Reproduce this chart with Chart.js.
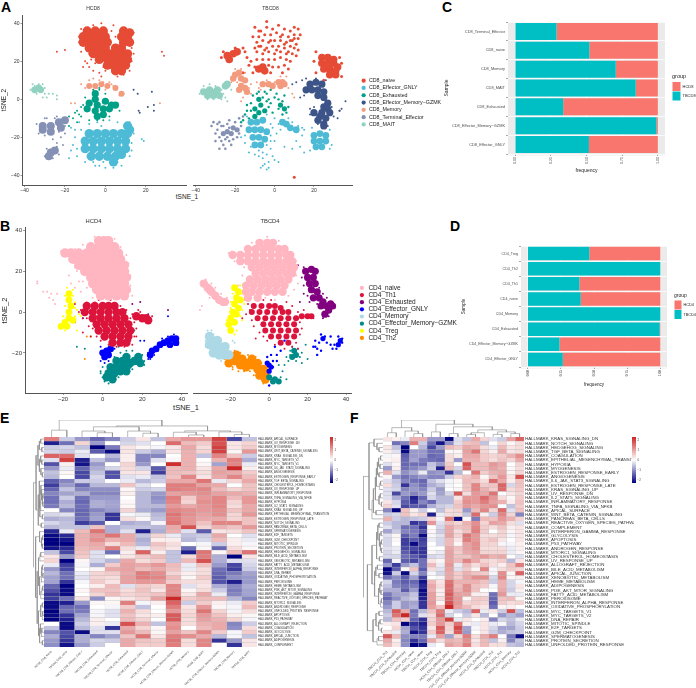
<!DOCTYPE html>
<html>
<head>
<meta charset="utf-8">
<title>CD8 and CD4 T cell panels</title>
<script src="https://cdn.jsdelivr.net/npm/chart.js@4"></script>
<style>
  html, body { margin: 0; padding: 0; background: #fff; }
  #page { position: relative; width: 696px; height: 688px; overflow: hidden; }
  #page canvas { position: absolute; }
  .tag { position: absolute; font: bold 14px "Liberation Sans", sans-serif; color: #000; line-height: 14px; }
  .axisname { position: absolute; font-family: "Liberation Sans", sans-serif; color: #222; transform: translateX(-50%); white-space: nowrap; }
</style>
</head>
<body>
<div id="page">
  <div class="tag" style="left:1px;top:0px">A</div>
  <div class="tag" style="left:0px;top:219px">B</div>
  <div class="tag" style="left:442px;top:0px">C</div>
  <div class="tag" style="left:450px;top:219px">D</div>
  <div class="tag" style="left:0px;top:411px">E</div>
  <div class="tag" style="left:350px;top:411px">F</div>
  <div class="axisname" style="left:187px;top:193px;font-size:6.5px">tSNE_1</div>
  <div class="axisname" style="left:186px;top:403px;font-size:7.5px">tSNE_1</div>
</div>
<script>
// panel A, flat x,y lists
const cd8Groups = ['CD8_naive','CD8_Effector_GNLY','CD8_Exhausted','CD8_Effector_Memory\u2212GZMK','CD8_Memory','CD8_Terminal_Effector','CD8_MAIT']
const cd8Colors = ['#E64B35','#4DBBD5','#00A087','#3C5488','#F39B7F','#8491B4','#91D1C2']

const hcd8Naive = [-9,36,-5,36,-1,36,9,36,12,35,-11,33,-8,33,-4,33,0,33,8,33,11,32,-11,30,-7,30,-3,30,1,30,9,30,12,30,-8,27,-4,27,0,27,5,27,8,27,-6,24,-2,24,2,24,5,24,9,24,11,24,-3,21,1,21,4,21,8,21,11,21,1,18,4,18,7,18,10,18,5,15,8,15]
const hcd8NaiveDots = [-24,25,-20,26,-8,17,-6,15,-3,14,0,15,-10,20,-12,25,-2,12,28,25,29,23,13,20,12,15,-11,17,-7,21,-8,24,-13,30,14,35,4,39,-2,40,-6,39,-12,37,-13,33,13,27,3,36,5,33,14,24,9,13,6,12,-5,19,-9,19,-1,17]
const hcd8Gnly = [11,-14,12,-16,-8,-18,-4,-18,0,-18,4,-18,8,-18,11,-18,-10,-22,-6,-22,-2,-22,2,-22,6,-22,10,-22,-10,-26,-6,-26,-2,-26,2,-26,6,-26,10,-26,-7,-30,-3,-30,1,-30,5,-30,8,-29,4,-33]
const hcd8GnlyDots = [-17,-15,-15,-20,-14,-26,-13,-12,-8,-13,-4,-12,2,-11,6,-12,13,-23,18,-21,19,-22,-17,-27,-14,-30,-10,-33,-6,-33,0,-36,8,-35,-3,-35,6,-33,12,-30,-15,-16,-16,-24,14,-18,12,-12,-2,-14,13,-27,-12,-16,-1,-33,4,-36,-5,-35,-18,-31]
const hcd8Exh = [-5,3,-5,0,-8,-2,-4,-3,0,-1,3,-3,5,-3,-9,-5,-5,-6,-1,-5,-4,-9,2,-5,-1,-8]
const hcd8ExhDots = [-14,-6,-16,-10,-20,-10,-18,-9,-12,-4,-13,-8,-3,6,-8,-11,-4,-11,2,-9,7,-6,0,3,-18,-14,-14,-12,-10,1,-11,-3,-3,5,6,-2,-12,-9,-6,5,-1,-11,-15,-7]
const hcd8Mem = [14,5,16,3,23,4,17,-7,16.5,-6,21,-4,24,-3,24,-6]
const hcd8Mem2 = [-8,7,-5,7,-2,8,1,7,5,6,8,3]
const hcd8Mem2Dots = [-6,11,-3,10,-10,6,-17,-2,-15,-2,-6,5,3,8,7,2,9,3,27,-2,0,5,-8,10,-1,9,2,9,4,7,-12,8,-4,6]
const hcd8Term = [-31,-14,-31,-16,-27,-14,-23,-12,-27,-17,-22,-15,-20,-11,-27,-28,-25,-27,-28,-30]
const hcd8TermDots = [-29,-10,-24,-9,-20,-18,-26,-21,-24,-23,-22,-20,-33,-18,-30,-19,-30,-30,-20,-14,-25,-10,-19,-10,-23,-17,-24,-25,-29,-26,-23,-29,-26,-31,-34,-13,-30,-10,-21,-24]
const hcd8Mait = [-35,5,-33,6,-32,5]
const hcd8MaitDots = [-30,3,-28,3,-26,3,-31,1,-36,8,-33,8,-24,2,-24,0,-37,5,-34,3,-30,6,-31,8,-35,7,-29,1]

const tbcd8Naive = [-24,23,-21,24,-19,25,-23,21,24,22,27,22,30,21,24,19,27,19,30,19,32,17,25,16,28,16,31,15,28,13,31,13,-8,16,-6,17,-5,15]
const tbcd8NaiveDots = [-10,38,-7,36,-4,38,-1,37,2,39,5,37,8,36,10,38,12,37,13,34,-11,33,-8,33,-5,34,-2,34,1,35,4,34,7,33,10,34,12,32,-9,30,-6,31,-3,30,0,31,3,31,6,30,9,31,11,29,-10,27,-7,28,-4,27,-1,28,2,28,5,27,8,28,10,27,12,26,-9,25,-6,24,-3,25,0,24,3,25,6,24,9,24,11,23,-14,22,-12,20,-9,21,-6,21,-3,21,0,21,3,22,6,21,8,20,-13,18,-10,17,-3,18,-1,17,2,17,5,18,7,16,21,25,33,22,34,19,20,20,21,14,34,12,25,10,-27,22,-26,25,-20,27,-16,27,-4,41,10,-41,-15,25,-11,14,-2,14,4,14,-16,14,-8,36,3,33,-2,31,5,29,7,25,1,26,-5,26,-8,28,10,32,8,31]
const tbcd8Gnly = [-12,-12,-9,-12,-6,-11,-13,-16,-10,-16,-7,-16,-4,-17,-11,-20,-8,-20,-5,-21,-10,-24,-7,-24,4,-12,6,-13,8,-15,11,-16,20,-19,23,-18,26,-19,20,-22,23,-22,26,-22,21,-25,24,-25]
const tbcd8GnlyDots = [-6,-35,-5,-34,-7,-36,-4,-37,-3,-33,0,-32,2,-33,-8,-30,-13,-28,-10,-29,-6,-28,-2,-26,0,-22,5,-25,9,-26,13,-25,11,-22,15,-28,-1,-15,1,-18,14,-19,15,-16,0,-10,-17,-20,-15,-23,-12,-25,-4,-29,-2,-22,-2,-19,2,-13,3,-16,12,-14,14,-15,9,-12,-14,-9,-4,-8,-2,-13,7,-10,28,-16,28,-26,18,-27,19,-15,29,-24,-8,-27,-1,-30,-15,-19,-4,-24,-6,-31,-3,-36]
const tbcd8Exh = [-10,-5,-8,-7,-10,-9,-7,-3,-5,-6,-8,0,3,-3,5,-5]
const tbcd8ExhDots = [-14,-3,-12,-2,-15,-8,-13,-10,-16,-11,-17,-12,-11,2,-8,4,-6,1,-4,3,-3,0,-2,5,-3,-4,-1,-7,0,1,2,0,2,-5,4,-1,5,2,6,-7,7,-4,4,-8,-6,-10,-2,-2,-12,-6,-5,4,1,3,-4,-1,-9,3,-14,-6]
const tbcd8Mem = [18,8,21,9,24,8,16,5,19,5,22,5,25,4,22,2,25,1,27,-2,25,-4,27,-5,24,-7,28,-7,20,-7,23,-9,26,-10,22,-11,25,-13,25,-14]
const tbcd8MemDots = [16,11,14,10,9,8,11,9,33,-6,34,-5,36,-1,32,-10,13,1,15,2,18,-5,18,-8,29,-4,20,-4,30,-9,33,-6,27,-14,22,-13,21,11,26,10]
const tbcd8Mem2 = [-20,13,-18,14,-21,11,-17,11,-15,10,-17,7,-15,6,-18,5,-14,4,-6,8,-3,8,-1,7,2,9,4,9,3,7,5,8]
const tbcd8Mem2Dots = [-17,-1,-16,1,-20,16,-17,16,-12,8,-13,6,-9,9,-8,6,-4,10,-2,5,-7,5,0,9,7,6,9,3,10,1,6,12,3,12,-12,3,-19,9,-22,9,-15,14]
const tbcd8Term = [-24,-17,-26,-18,-22,-18,-21,-15,-19,-16]
const tbcd8TermDots = [-31,-12,-32,-14,-28,-12,-27,-14,-24,-13,-20,-12,-18,-10,-16,-9,-25,-21,-28,-20,-26,-24,-25,-26,-22,-24,-28,-26,-30,-18,-19,-20,-29,-16,-23,-15,-17,-14,-21,-21,-23,-22,-27,-22,-18,-18,-29,-13,-23,-11,-26,-14,-24,-20,-30,-22]
const tbcd8Mait = [-36,4,-33,5,-30,4,-34,2,-31,2,-28,2,-29,5,-33,3,-25,7,-24,8]
const tbcd8MaitDots = [-37,5,-36,7,-33,8,-30,7,-27,5,-26,3,-25,1,-27,0,-31,0,-34,0,-24,-1,-22,5,-38,3]

// panel B
const cd4Groups = ['CD4_naive','CD4_Th1','CD4_Exhausted','CD4_Effector_GNLY','CD4_Memory','CD4_Effector_Memory\u2212GZMK','CD4_Treg','CD4_Th2']
const cd4Colors = ['#FFB6C1','#DC143C','#800080','#0000FF','#ADD8E6','#008B8B','#FFFF00','#FF8C00']

const hcd4Naive = [-2,35,1,35,3,35,-6,32,-2,32,2,32,6,32,-19,29,-16,29,-12,29,-8,29,-4,29,0,29,4,29,8,29,-15,26,-11,26,-7,26,-3,26,1,26,5,26,9,26,-12,23,-8,23,-4,23,0,23,4,23,8,23,11,23,-9,20,-5,20,-1,20,3,20,7,20,11,20,-6,17,-2,17,2,17,6,17,10,17,12,17,-5,14,-1,14,3,14,7,14,11,14,-3,11,1,11,5,11,9,11,12,11,-1,8,3,8,7,8,11,8]
const hcd4NaiveDots = [-33,15,-33,14,-28,10,-26,9,-25,6,-24,4,-16,14,-14,12,-11,10,-8,5,-4,5,2,3,14,18,13,24,9,32,-10,33,-14,31,-21,30,-30,10,-27,7,-23,9,-17,18,-13,20,-10,15,-12,15,-8,12,-5,7,14,13,15,8,6,36,-14,22,-4,37,0,37,12,28]
const hcd4Th1 = [-8,3,-4,3,0,3,3,3,6,3,-9,0,-5,0,-1,0,3,0,7,0,10,0,-5,-3,-1,-3,3,-3,7,-3,11,-3,-3,-6,1,-6,5,-6,9,-6,13,-6,-2,-9,2,-9,6,-9,10,-9,14,-9,1,-12,5,-12,9,-12,13,-12,5,-15,9,-15,12,-15,17,-2,20,-3,22,-3,23,-4]
const hcd4Th1Dots = [-11,1,-10,-3,-8,-3,-12,0,-7,-7,-5,-8,-3,-12,-1,-14,3,-16,7,-17,11,-17,16,-12,17,-8,16,-5,14,-3,15,-1,-6,-12,-14,-5,-14,4,-2,6,4,6,9,3,12,1,14,-14,-3,-2,18,1,24,-4,25,-2,19,0,-10,-10,15,-16,17,-12]
const hcd4Exh = [15,4,19,5,33,1,23,-1,-1,-2]
const hcd4Gnly = [0,-20,2,-19,3,-21,1,-22,4,-18,24,-21,25,-19,27,-18,29,-16,31,-15,33,-14,35,-13,37,-13,37,-15,34,-16]
const hcd4GnlyDots = [-1,-17,5,-16,6,-18,-1,-24,1,-25,3,-24,23,-23,24,-23,26,-21,28,-19,23,-20,36,-11,33,-12,38,-16,30,-13,19,-14,21,-14,-10,-3,-2,-5,33,-2,-3,-6,16,-3]
const hcd4Mem = [-29,-9,-30,-14,-31,-15]
const hcd4Em = [16,-24,18,-24,19,-25,14,-25,18,-22,7,-24,10,-24,12,-22,4,-27,7,-27,10,-27,13,-26,3,-30,6,-30,9,-29,12,-29,2,-32,5,-33]
const hcd4EmDots = [1,-34,0,-32,-1,-29,0,-27,-1,-30,3,-35,8,-32,13,-21,15,-19,9,-20,12,-19,6,-22,20,-21,21,-24,21,-26,15,-28,5,-19,8,-17,-9,-18,-13,-17,16,-9]
const hcd4Treg = [-17,9,-17,6,-16,3,-17,0,-17,-3,-19,-5,-21,-7,-18,-7,-15,-4]
const hcd4TregDots = [-13,1,-12,-1,-11,-2,-18,12,-15,11,-14,-5,-13,-9,-19,3,-14,5,-20,-2,-22,-8,-19,-9,-14,-2,-14,2,-19,8,-15,8]
const hcd4Th2 = [-8,-12,-9,-23,-6,-12]

const tbcd4Naive = [-5,34,-1,34,2,34,-11,31,-7,31,-3,31,1,31,5,31,8,31,-19,28,-15,28,-11,28,-7,28,-3,28,1,28,5,28,9,28,11,28,-15,25,-11,25,-7,25,-3,25,1,25,5,25,9,25,12,25,-9,22,-5,22,-1,22,3,22,7,22,11,22,13,22,-7,19,-3,19,1,19,5,19,9,19,12,19,-10,16,-6,16,-2,16,2,16,6,16,10,16,-12,13,-8,13,-4,13,0,13,4,13,8,13,-12,10,-9,10,-5,10,-1,10,3,10,7,10,-11,7,-6,7,-34,14,-32,12,-30,10,-28,8,-26,6,-24,5,-23,5,-31,11]
const tbcd4NaiveDots = [-35,15,-33,16,-30,14,-28,12,-25,9,-22,7,-21,29,-18,25,-13,22,-14,18,-13,6,-8,4,-2,7,3,6,14,18,14,25,15,14,5,35,-9,34,-31,7,-35,3,-36,1,-12,32,-1,37,10,8,13,11,-16,13]
const tbcd4Th1 = [-8,3,-4,3,0,3,3,3,6,2,-9,0,-5,0,-1,0,3,0,7,0,10,0,-6,-3,-2,-3,2,-3,6,-3,10,-3,14,-3,-3,-6,1,-6,5,-6,9,-6,13,-6,-2,-9,2,-9,6,-9,10,-9,14,-9,1,-12,5,-12,9,-12,13,-12,6,-15,10,-15,17,-2,20,-2,22,-2]
const tbcd4Th1Dots = [-11,4,-10,1,-12,-1,-9,-4,-8,-7,-5,-10,-3,-12,-1,-14,3,-16,8,-18,12,-17,16,-11,17,-8,16,-5,15,0,12,3,9,5,-3,6,1,6,-14,-3,14,-15,15,-18,18,1,23,-3,-7,-13]
const tbcd4Exh = [19,20,22,21,24,20,20,17,23,17,21,14,24,14,22,11,25,10,23,7,26,7,28,5,30,3,32,4,31,1,29,-1,33,3,27,3]
const tbcd4ExhDots = [18,22,17,17,18,13,18,9,20,8,21,5,26,12,28,9,30,7,28,-3,31,-2,25,4,16,5,12,26,34,2,15,23]
const tbcd4Gnly = [28,-13,37,-14,36,-16,-1,-25,0,-26,0,-29,1,-27]
const tbcd4GnlyDots = [24,-14,26,-15,27,-11,29,-12,30,-15,25,-18,24,-17,27,-19,25,-21,23,-17,32,-16,33,-18,35,-18,36,-12,38,-13,38,-15,34,-16,32,-12,4,-21,6,-19,4,-24,2,-27,-3,-28,2,-24,1,-21,8,-14,3,-17,-1,-22,-2,-27,12,-22,0,-36]
const tbcd4Mem = [-31,-12,-30,-15,-27,-14,-28,-18,-25,-18,-24,-21,-21,-21,-27,-16,-23,-17,-31,-16,-29,-20,-26,-21]
const tbcd4MemDots = [-32,-9,-30,-9,-29,-11,-33,-14,-33,-17,-25,-14,-22,-19,-19,-22,-21,-24,-20,-20,-25,-24,-19,-14,-18,-15]
const tbcd4Em = [13,-19,14,-21,12,-22,0,-32,3,-33,5,-34,2,-34]
const tbcd4EmDots = [15,-18,16,-22,17,-20,11,-19,10,-24,8,-26,9,-22,5,-26,14,-24,17,-25,20,-23,-2,-31,6,-32,9,-33,7,-29,11,-21,12,-17,19,-16]
const tbcd4Treg = [-18,12,-16,10,-17,7,-15,6,-18,4,-16,2,-19,0,-20,-3,-21,-6,-20,-9,-18,-5,-17,-1]
const tbcd4TregDots = [-14,9,-13,4,-14,1,-15,-2,-14,-4,-19,9,-20,5,-15,13,-22,-6,-18,-11,-17,-9,-13,11,-20,2,-22,-4]
const tbcd4Th2 = [-20,-22,-17,-21,-14,-23,-21,-25,-18,-24,-15,-26,-12,-25,-9,-23,-9,-26,-12,-27,-6,-25,-6,-28,-3,-28,-5,-31,-2,-31,-4,-29,-2,-33]
const tbcd4Th2Dots = [-23,-23,-22,-26,-19,-27,-16,-29,-13,-29,-10,-29,-8,-31,-18,-19,-15,-20,-7,-22,-4,-25,-1,-27,-1,-34,-19,-28,-3,-35,-11,-21]

// panels C, D
const cd8Samples = ['CD8_Terminal_Effector','CD8_naive','CD8_Memory','CD8_MAIT','CD8_Exhausted','CD8_Effector_Memory\u2212GZMK','CD8_Effector_GNLY']
const cd8TbFreq = [0.29,0.52,0.705,0.845,0.337,0.99,0.517]
const cd8HcFreq = [0.71,0.48,0.295,0.155,0.663,0.01,0.483]
const cd4Samples = ['CD4_Treg','CD4_Th2','CD4_Th1','CD4_naive','CD4_Memory','CD4_Exhausted','CD4_Effector_Memory\u2212GZMK','CD4_Effector_GNLY']
const cd4TbFreq = [0.465,1,0.39,0.40,1,0.995,0.24,0.265]
const cd4HcFreq = [0.535,0,0.61,0.60,0,0.005,0.76,0.735]
const freqTicks = [0,0.25,0.5,0.75,1]

// panels E, F
const colsE = ['HCD8_CD8_Naive','TBCD8_CD8_naive','TBCD8_CD8_Effector_GNLY','TBCD8_CD8_Exhausted','TBCD8_CD8_Terminal_Effector','HCD8_CD8_Exhausted','HCD8_CD8_Effector_GNLY','HCD8_CD8_Terminal_Effector','HCD8_CD8_Effector_Memory-GZMK','HCD8_CD8_Memory','HCD8_CD8_MAIT','TBCD8_CD8_Effector_Memory-GZMK','TBCD8_CD8_Memory','TBCD8_CD8_MAIT']
const rowsE = ['APICAL_SURFACE','UV_RESPONSE_DN','MYOGENESIS','WNT_BETA_CATENIN_SIGNALING','KRAS_SIGNALING_DN','MYC_TARGETS_V2','MYC_TARGETS_V1','IL6_JAK_STAT3_SIGNALING','ANGIOGENESIS','ESTROGEN_RESPONSE_EARLY','TGF_BETA_SIGNALING','CHOLESTEROL_HOMEOSTASIS','UV_RESPONSE_UP','INFLAMMATORY_RESPONSE','TNFA_SIGNALING_VIA_NFKB','HYPOXIA','IL2_STAT5_SIGNALING','KRAS_SIGNALING_UP','EPITHELIAL_MESENCHYMAL_TRANSITION','ESTROGEN_RESPONSE_LATE','NOTCH_SIGNALING','PANCREAS_BETA_CELLS','SPERMATOGENESIS','E2F_TARGETS','G2M_CHECKPOINT','MITOTIC_SPINDLE','PROTEIN_SECRETION','HEDGEHOG_SIGNALING','BILE_ACID_METABOLISM','XENOBIOTIC_METABOLISM','FATTY_ACID_METABOLISM','INTERFERON_ALPHA_RESPONSE','DNA_REPAIR','OXIDATIVE_PHOSPHORYLATION','PEROXISOME','HEME_METABOLISM','PI3K_AKT_MTOR_SIGNALING','INTERFERON_GAMMA_RESPONSE','REACTIVE_OXYGEN_SPECIES_PATHWAY','MTORC1_SIGNALING','ANDROGEN_RESPONSE','UNFOLDED_PROTEIN_RESPONSE','APOPTOSIS','P53_PATHWAY','ALLOGRAFT_REJECTION','COAGULATION','GLYCOLYSIS','APICAL_JUNCTION','ADIPOGENESIS','COMPLEMENT'].map(r => 'HALLMARK_' + r)
const heatE = [
[1.5,-.5,-1,-1.5,-1.2,-.5,.3,-.6,1,1.2,1.2,2.2,-1.8,-.6],
[-2.2,-1.4,.5,-1,0,-.4,-.3,0,1.7,.8,.6,2,.3,.5],
[-.5,-.4,-.6,-2.6,-1.3,.3,.1,-.1,.3,1,.4,2.2,.3,.6],
[-.4,-.5,-.2,-1.6,-2.4,.3,-.5,-.8,.3,.9,.5,2.2,.1,1.2],
[1.8,1.7,-.3,0,-.7,.2,-1.2,-1.2,0,.9,-.6,1.4,.7,-.5],
[-.3,2.2,-2.2,-.6,-1,.2,-1.2,-.3,.1,.9,0,.9,1.5,-.8],
[-1.7,.2,-2.3,-1,0,.5,-1,0,2.4,.9,.1,-.9,1.4,-.2],
[-1,-.2,-1.5,-.8,-.4,.4,-.4,-1.6,.8,.9,.3,1,3,.2],
[-.6,.1,-1.8,-.6,-1.7,.3,.3,-1.9,.8,.7,.4,1.1,1,.6],
[-.7,0,-1.8,-.4,-1.7,-.3,-.2,-.6,.7,1.4,.3,1,1.4,.8],
[-1.6,-1.2,-.5,-.5,0,-.2,-.7,-.5,1,1,1.6,-.2,.5,1],
[-1.9,-1,-1.5,-.7,-.7,.7,-.3,0,1.5,1.5,1.1,1,0,.7],
[-1.5,-.6,-1.2,-1.1,-1.1,.1,-.5,-.4,1.5,1.4,1.4,.8,.5,.7],
[-1.2,-.9,-.8,-1.2,-1.2,.2,-.7,-1,1.1,1.2,1.3,1.1,1,.9],
[-1.4,-.5,-1.4,-1,-1,0,-.7,-1.1,1.5,.6,1.2,1.4,.8,1.2],
[-1.4,-.8,-1.5,-.8,-.9,.1,-.7,-1,1.4,.5,1.3,1.4,.5,1.2],
[-1.3,-.7,-1.4,-.8,-.9,.1,-.7,-.7,1.2,1,1.2,1.4,.4,1],
[0,-1.2,-1.5,-1.2,-1,.5,-.8,-1,1.4,1.3,1.2,1.3,.7,1],
[-.4,-.3,-1.5,-1,-2,-.1,-.2,-.7,1.6,1.3,1.1,1.3,.5,1.2],
[-.8,-.7,-1.4,-.9,-2,.4,.1,-.6,1.5,1.2,1,1,.5,.7],
[-.4,-.6,-1.9,-1.6,0,-.8,-.7,-.1,1.6,1.2,.7,1.4,1.4,.7],
[-.7,-.6,-.6,.7,-.8,-.6,-.6,-.7,1,2,.5,.9,.7,1.2],
[-2.1,-.2,.8,1.6,-.8,-.3,-2.2,-.8,.9,-.3,-1.6,.3,.4,.7],
[-2.4,-2.1,.9,1.2,1.6,1,-.6,.5,-.2,-.6,-.5,1,0,-.3],
[-2.5,-2.3,.9,1.3,.9,1,-.8,.2,.2,-.7,-.4,.8,.2,-.2],
[-2.5,-2.6,.9,1,.4,.8,-.7,.7,.4,0,-.1,-.5,.2,-.1],
[-2.3,-2.1,.8,.9,1.5,.4,-.2,.5,.3,-1.4,.1,-1.5,.4,.1],
[-.6,-1.8,.7,-.3,-1.4,.2,1.8,.2,-.6,-2.2,1.6,.1,.8,1.6],
[.3,-1,.6,-.3,0,.3,.6,.8,-.6,.4,1.5,-.8,-2.8,.3],
[.5,-2.8,.1,-.4,-.7,1,.4,.6,-.6,.8,2,-.8,-.3,-.3],
[-.2,-1.9,-.1,-.8,.6,1.1,1,1.2,.8,-.2,.7,-1,-1.8,-.4],
[-1,-1.8,0,.1,1,1.1,.8,1,.7,-.2,.4,-1.4,-1.9,-.5],
[-.7,-1.4,-.2,.5,.6,1,1.5,1.3,.5,.2,.4,-1.5,-1.3,-.9],
[-.9,-1.4,-.3,.5,.4,1.1,1.5,1.4,.8,.1,.6,-1.6,-1.1,-1],
[-.9,-2,-.1,.6,.3,1.1,1.2,1.2,.6,.4,.4,-1.7,-2.2,-1],
[-1.5,-2.5,0,.2,.8,-.3,.6,.5,1.4,-.3,.3,-.8,-1.2,-.8],
[-1.7,-2.4,.1,.7,.7,.4,.7,.3,1.4,.1,.4,-.5,-1.3,-.9],
[-2,-2.4,0,.5,.8,.5,.6,.7,1.4,.3,1,-.2,-1.2,-.9],
[-1.9,-1.4,.3,-1.1,.1,.3,.5,1.1,2.6,.6,.8,.8,-.7,-1.2],
[-2.4,-2.2,-1,.1,.1,1.5,-.1,.2,1.8,-.5,.6,.2,-.2,.6],
[-2.4,-1.5,-1.4,0,-.1,.6,-.6,0,1.5,.3,1.2,.1,-.1,.8],
[-2.5,-1.4,-1.3,-.1,-.3,.9,.4,0,1.2,.4,1.6,.5,-.1,.4],
[-2.4,-2,-.9,-.1,-.3,.7,.3,.2,1.9,.5,1.2,.7,.2,.1],
[-2.6,-2.2,-.7,.2,0,.8,.5,0,1.9,.4,1.1,.9,.5,-.1],
[0,-2.4,-.5,.2,-.2,2,.9,-.6,1.2,.4,.9,1,-1.2,-.5],
[-.6,-2.4,-.7,-.3,-2,1,.5,.1,1.3,0,.8,1,-1.1,.4],
[-1.2,-1.7,-2.4,-.3,-.3,1.2,.8,.1,1.1,.7,1.4,.6,-.1,.6],
[-.8,-1.8,-.8,-1.2,-.9,.7,1.6,.3,1.5,1.3,1,-.7,-.1,-.6],
[-1,-2,-.8,-.4,-.5,1,.7,.6,1.6,.4,1.4,-2,-1,.3],
[-1.1,-2.3,-1,-.5,0,1,.6,.6,1.5,.4,1.4,0,-2,.3]]

const colsF = ['TBCD4_CD4_Th1','TBCD4_CD4_Exhausted','TBCD4_CD4_Memory','HCD4_CD4_naive','TBCD4_CD4_naive','HCD4_CD4_Treg','TBCD4_CD4_Treg','HCD4_CD4_Effector_GNLY','TBCD4_CD4_Effector_GNLY','HCD4_CD4_Effector_Memory-GZMK','TBCD4_CD4_Effector_Memory-GZMK','HCD4_CD4_Exhausted','TBCD4_CD4_Th2','HCD4_CD4_Th1','HCD4_CD4_Memory','HCD4_CD4_Th2']
const rowsF = ['KRAS_SIGNALING_DN','NOTCH_SIGNALING','HEDGEHOG_SIGNALING','TGF_BETA_SIGNALING','COAGULATION','EPITHELIAL_MESENCHYMAL_TRANSITION','HYPOXIA','MYOGENESIS','ESTROGEN_RESPONSE_EARLY','ANGIOGENESIS','IL6_JAK_STAT3_SIGNALING','ESTROGEN_RESPONSE_LATE','KRAS_SIGNALING_UP','UV_RESPONSE_DN','IL2_STAT5_SIGNALING','INFLAMMATORY_RESPONSE','TNFA_SIGNALING_VIA_NFKB','APICAL_SURFACE','WNT_BETA_CATENIN_SIGNALING','PANCREAS_BETA_CELLS','REACTIVE_OXYGEN_SPECIES_PATHWAY','COMPLEMENT','INTERFERON_GAMMA_RESPONSE','GLYCOLYSIS','APOPTOSIS','P53_PATHWAY','ANDROGEN_RESPONSE','MTORC1_SIGNALING','CHOLESTEROL_HOMEOSTASIS','UV_RESPONSE_UP','ALLOGRAFT_REJECTION','BILE_ACID_METABOLISM','APICAL_JUNCTION','XENOBIOTIC_METABOLISM','HEME_METABOLISM','ADIPOGENESIS','PI3K_AKT_MTOR_SIGNALING','FATTY_ACID_METABOLISM','PEROXISOME','INTERFERON_ALPHA_RESPONSE','OXIDATIVE_PHOSPHORYLATION','MYC_TARGETS_V1','MYC_TARGETS_V2','DNA_REPAIR','MITOTIC_SPINDLE','E2F_TARGETS','G2M_CHECKPOINT','SPERMATOGENESIS','PROTEIN_SECRETION','UNFOLDED_PROTEIN_RESPONSE'].map(r => 'HALLMARK_' + r)
const heatF = [
[.3,.2,-.2,.9,.9,-1,-1,-2.6,-.3,-.6,1,.5,-.3,-.5,1.1,1.8],
[0,-1.4,-1.2,1.5,-.5,-1.4,-2.3,-1.1,-.3,.7,.8,-.6,0,.5,.1,.4],
[.3,-.6,-2.6,0,-.7,-1.8,-1,.8,.6,1,.9,.4,-.2,.8,.3,.4],
[.2,-.3,-2.4,-1,-1,-1.4,-1.4,.1,.1,1.1,1.6,.5,.2,1,.3,.4],
[-.1,.1,-1.6,-1,-1,-1.5,-1.4,.4,.2,1,1,.6,.5,.6,.9,1.3],
[.1,.2,-1.5,-.9,-1.3,-1.4,-1.5,.4,-1,.9,.9,.6,.4,.7,.5,1],
[-.3,.1,-1.5,-1.4,-1.4,-.6,-1,.6,0,2,.8,.8,1.2,1,0,.5],
[-1,.2,-1.4,-1.2,-1,-.5,-2.2,.8,-.4,1.8,.8,.8,1.1,.9,.1,.4],
[.9,-.3,-1.1,-.8,-.2,-1.1,-1,-2,-.7,0,1.6,.6,.9,1,.1,.5],
[.1,-1,-1.4,-1.2,-1,-1.2,-1.2,-.5,.5,.7,.9,.1,.7,1.2,.3,2],
[-.3,-.6,-1.2,-1.4,-1.5,-.6,-.3,-.1,.1,.8,.7,.4,1.7,1,.2,.7],
[.4,-.5,-2,-1.1,-1.4,-.8,-.6,-.1,0,.7,1.4,.6,.7,1.8,-.4,.7],
[-.3,-.4,-1.2,-1,-1.2,-.5,-1,0,.1,.7,1.4,.9,.6,1.7,.4,.6],
[-.3,-1.8,-1,-1.2,-1,-.3,-.9,-.4,1.9,.4,1.2,1,1.6,0,.3,.5],
[-.3,-.8,-1.4,-2.2,-1.5,-.4,-.7,-.7,.3,1.2,1.2,1.7,1.2,.4,.1,.6],
[.3,-.4,-1.6,-2,-1.2,-1.5,-.7,-.7,.6,1.3,1.2,1.5,1.1,.9,.2,.7],
[.5,-.3,-1.8,-1.6,-1.6,-.8,-.5,-.4,.7,1.2,1,1.2,1.3,0,-.6,.6],
[-1.2,-3,.7,.2,-.5,0,-.6,.4,.5,-1,.8,1.4,.5,1.7,-.3,.7],
[-.5,-.4,.7,.3,.5,-2.2,-.2,.4,.4,-.6,1.7,.2,-.5,1.4,.5,-1.2],
[.9,-.5,-.7,-.6,-.5,.5,-.1,1.6,-2.4,.1,-1.3,.8,.7,1.2,.9,.5],
[-.5,-.7,-.7,-2,-1.8,1.2,-.3,.7,.5,.9,1.3,.5,1.1,1,.4,-.3],
[-.3,-.7,-1.4,-1.4,-2,0,-.4,1,.7,.8,1.4,.6,.4,.7,.2,.3],
[-.9,-.5,-1.2,-1.3,-1.7,.1,-.5,1,.4,.7,1.5,.6,0,.5,.1,.3],
[-.3,.1,-1.6,-1.3,-2.4,-.1,-.3,1.1,.5,1.6,1.2,.4,.4,.5,-.1,.3],
[-.4,.1,-1.9,-1.6,-1.9,-.2,-.4,.8,.3,1.5,1.2,.5,.7,.3,0,.3],
[-.4,0,-1.9,-2.4,-1.8,0,-.4,.8,.1,1.1,1.3,.5,.5,-.1,-.1,.2],
[-.3,-.2,-1.8,-1.8,-2,0,0,1,.7,1.1,1.3,.4,.4,.4,-.2,.2],
[-.4,-.2,-1.6,-2,-2,.1,-.2,1.1,.6,1,1.1,.5,.5,.5,-.2,.1],
[-.4,-.4,-1.4,-1.6,-1.9,-.4,-.3,1.1,.7,.7,1,1.2,.9,1,0,-.3],
[-1.5,-.1,-1.6,-1.8,-1.4,.3,.1,1.1,.8,1.4,1,.5,.4,.6,-.7,.3],
[-1,-1.9,-1,-.6,-1.4,.8,-.2,1.2,-.2,.8,.4,.7,.4,.2,.7,1.5],
[-2.8,-1.6,.1,.7,-1.6,.4,-.3,1.1,-.3,.6,.1,1.4,-.1,.4,.6,.5],
[-2.3,-.5,-2.4,-.4,-1.2,-.1,-.4,1,.6,.9,.7,.6,-.1,1.3,.1,1.8],
[-1.4,-1.1,-1.6,-.9,-1.9,0,-.1,1,.6,1,1.3,1.3,-.4,1.4,.1,.2],
[-.4,-1.3,-1.6,-1.5,-2.3,.8,.3,1.6,.9,.9,.9,.7,-.5,.9,-.4,-.1],
[-.6,-1.2,-1.4,-1.3,-2.1,1,.4,1.7,.8,1.3,.7,.6,-.1,.9,-.4,.3],
[-.8,-.8,-1.6,-1,-2.4,.9,.2,1.7,.9,1.3,.7,0,0,1,-.5,.2],
[-1.3,-.9,-.9,-.6,-2.3,1.1,.2,1.9,1.1,1.1,.2,.2,-1.4,1.2,-.2,-.2],
[-1.5,-1.1,-.7,-.5,-2.2,1.1,.4,1.8,1.2,.1,.6,.6,-1.5,.7,.8,.1],
[-1.2,-.5,-1,-.9,-2,1.2,.1,2,1.2,.5,.6,.5,-1.6,.6,.4,.5],
[-1,-.5,-1,-.8,-2,1.1,.7,2.6,1.1,.8,.4,.3,-1.4,.1,.2,0],
[-.7,1.9,1,-1.4,-.7,.7,1.5,-.2,-.5,-.7,1.8,-.2,.3,-.5,2,-.6],
[-.5,1.6,2.7,-1.3,-.3,.4,1.7,-.4,0,-.5,.3,-.7,0,-1,-.7,-.9],
[-.7,.7,.6,-1.5,-2,.5,1.2,2.2,-.2,.3,0,.2,-1.2,-.4,-.6,-.2],
[.2,.3,-2.5,-2,-2.2,.6,1.2,.6,1.6,.2,-.2,.3,-.2,-.1,-.7,-.4],
[0,.5,-.9,-1.7,-2,.3,1.9,.5,2.1,-.9,-.1,.3,-.4,-.9,-.9,-.5],
[.3,-.2,-.8,-2.3,-2,.6,1.8,.4,1.9,-1,0,.3,-.5,-.8,-.6,-.5],
[1.9,.8,-1.1,-1.2,-1.3,-.2,1.1,-.9,.5,1.5,.4,1,1.5,0,-1.3,-2.4],
[1,.2,-1.2,-2,-1.5,1,.4,.9,.8,1.3,.3,.8,-.6,.2,-1.2,-.6],
[.8,.3,-1.1,-2.6,-2.3,-.2,0,1.1,.9,1.5,.4,.8,.4,.4,-.6,-.7]]

// dendrogram merges: leftPos, leftHeight, rightPos, rightHeight, top
const colTreeE = [[.5,0,1.5,0,.4],[3.5,0,4.5,0,.25],[2.5,0,4,.25,.35],[6.5,0,7.5,0,.22],[5.5,0,7,.22,.35],[3.25,.35,6.25,.35,.6],[9.5,0,10.5,0,.12],[8.5,0,10,.12,.28],[12.5,0,13.5,0,.15],[11.5,0,13,.15,.3],[9.25,.28,12.25,.3,.36],[4.75,.6,10.75,.36,.65],[1,.4,7.75,.65,1]]
const colTreeF = [[.5,0,1.5,0,.25],[3.5,0,4.5,0,.2],[2.5,0,4,.2,.35],[1,.25,3.25,.35,.55],[5.5,0,6.5,0,.3],[7.5,0,8.5,0,.2],[9.5,0,10.5,0,.15],[11.5,0,10,.15,.25],[12.5,0,13.5,0,.15],[14.5,0,15.5,0,.2],[13,.15,15,.2,.3],[10.75,.25,14,.3,.42],[8,.2,12.4,.42,.6],[6,.3,10.2,.6,.75],[2.1,.55,8.1,.75,1]]
const rowTreeE = [[.5,0,1.5,0,.3],[2.5,0,3.5,0,.2],[1,.3,3,.2,.42],[5.5,0,6.5,0,.2],[4.5,0,6,.2,.3],[8.5,0,9.5,0,.15],[7.5,0,9,.15,.28],[5.25,.3,8.25,.28,.42],[2,.42,6.75,.42,.55],[13.5,0,14.5,0,.1],[15.5,0,16.5,0,.1],[14,.1,16,.1,.18],[12.5,0,15,.18,.22],[11.5,0,13.75,.22,.28],[17.5,0,12.6,.28,.33],[18.5,0,19.5,0,.15],[15,.33,19,.15,.38],[10.5,0,17,.38,.45],[20.5,0,21.5,0,.25],[13.75,.45,21,.25,.52],[4.4,.55,17.4,.52,.72],
[23.5,0,24.5,0,.12],[25.5,0,26.5,0,.15],[24,.12,26,.15,.22],[22.5,0,25,.22,.4],[27.5,0,28.5,0,.3],[29.5,0,28,.3,.38],[30.5,0,31.5,0,.15],[32.5,0,33.5,0,.1],[31,.15,33,.1,.2],[34.5,0,32,.2,.26],[35.5,0,36.5,0,.12],[37.5,0,36,.12,.2],[38.5,0,36.75,.2,.3],[33.25,.26,37.6,.3,.4],[28.75,.38,35.4,.4,.5],[39.5,0,40.5,0,.15],[41.5,0,42.5,0,.12],[43.5,0,42,.12,.18],[40,.15,42.75,.18,.3],[45.5,0,46.5,0,.2],[47.5,0,46,.2,.26],[44.5,0,46.75,.26,.33],[48.5,0,49.5,0,.15],[45.6,.33,49,.15,.4],[41.4,.3,47.3,.4,.5],[32,.5,44.4,.5,.62],[23.75,.4,38.2,.62,.76],[10.9,.72,31,.76,1]]
const rowTreeF = [[2.5,0,3.5,0,.2],[1.5,0,3,.2,.3],[.5,0,2.25,.3,.45],[4.5,0,5.5,0,.12],[6.5,0,7.5,0,.15],[5,.12,7,.15,.22],[8.5,0,9.5,0,.2],[6,.22,9,.2,.28],[10.5,0,11.5,0,.12],[12.5,0,11,.12,.18],[7.5,.28,11.75,.18,.33],[13.5,0,14.5,0,.14],[15.5,0,16.5,0,.08],[14,.14,16,.08,.2],[9.6,.33,15,.2,.38],[17.5,0,18.5,0,.35],[12.3,.38,18,.35,.48],[19.5,0,15.1,.48,.55],[1.4,.45,17.3,.55,.7],
[20.5,0,21.5,0,.2],[22.5,0,23.5,0,.1],[24.5,0,25.5,0,.08],[26.5,0,27.5,0,.08],[25,.08,27,.08,.13],[23,.1,26,.13,.18],[21,.2,24.5,.18,.26],[28.5,0,29.5,0,.18],[22.7,.26,29,.18,.32],[30.5,0,31.5,0,.28],[32.5,0,33.5,0,.2],[31,.28,33,.2,.36],[34.5,0,35.5,0,.1],[36.5,0,37.5,0,.1],[35,.1,37,.1,.16],[38.5,0,39.5,0,.08],[40.5,0,39,.08,.12],[36,.16,39.75,.12,.22],[32,.36,37.9,.22,.42],[25.8,.32,35,.42,.55],
[41.5,0,42.5,0,.2],[43.5,0,44.5,0,.15],[45.5,0,46.5,0,.08],[44,.15,46,.08,.22],[42,.2,45,.22,.35],[47.5,0,48.5,0,.22],[49.5,0,48,.22,.3],[43.5,.35,48.75,.3,.5],[30.4,.55,46.1,.5,.78],[9.4,.7,38.2,.78,1]]
const barTicks = [-2,-1,0,1,2]

Chart.defaults.font.family = '"Liberation Sans", Arial, sans-serif'
Chart.defaults.animation = false
Chart.defaults.responsive = false
Chart.defaults.devicePixelRatio = 1

// canvases sit on the page one per panel, sizes worked out from the plot rectangle
function makeCanvas(left, top, width, height) {
  const c = document.createElement('canvas')
  c.width = width; c.height = height
  c.style.left = left + 'px'; c.style.top = top + 'px'
  document.getElementById('page').appendChild(c)
  return c
}

function fixWidth(w) { return s => { s.width = w; s.paddingTop = 0; s.paddingBottom = 0; s.paddingLeft = 0; s.paddingRight = 0 } }
function fixHeight(h) { return s => { s.height = h; s.paddingTop = 0; s.paddingBottom = 0; s.paddingLeft = 0; s.paddingRight = 0 } }
function pts(flat) {
  const out = []
  for (let i = 0; i < flat.length; i += 2) out.push({x: flat[i], y: flat[i + 1]})
  return out
}
const minus = v => String(v).replace('-', '\u2212')

function tsnePanel(box, lim, title, sizes, withY, sets) {
  const titleH = sizes.title * 1.2 + 3
  const yW = withY ? box.left : 0
  const c = makeCanvas(box.left - yW, box.top - titleH, box.right - box.left + yW + 8, box.bottom - box.top + titleH + 13)
  const datasets = []
  sets.forEach(s => {
    if (s.dots) datasets.push({data: pts(s.dots), backgroundColor: s.color, borderWidth: 0, pointRadius: s.d || sizes.dot, order: 2})
    if (s.core) datasets.push({data: pts(s.core), backgroundColor: s.color, borderWidth: 0, pointRadius: s.r, order: 1})
  })
  new Chart(c, {
    type: 'scatter',
    data: {datasets},
    options: {
      layout: {padding: {right: 8}},
      plugins: {
        legend: {display: false}, tooltip: {enabled: false},
        title: {display: true, text: title, color: '#333', font: {size: sizes.title, weight: 'normal'}, padding: {top: 0, bottom: 3}}
      },
      scales: {
        x: {
          type: 'linear', min: lim.x[0], max: lim.x[1],
          afterFit: fixHeight(13),
          border: {color: '#555', width: 1},
          grid: {drawOnChartArea: false, tickLength: 2, tickColor: '#555', tickWidth: .6},
          ticks: {stepSize: 20, includeBounds: false, padding: 1, maxRotation: 0, color: '#333', font: {size: sizes.tick}, callback: minus}
        },
        y: {
          display: withY, type: 'linear', min: lim.y[0], max: lim.y[1],
          afterFit: fixWidth(yW),
          title: {display: true, text: 'tSNE_2', color: '#222', padding: 0, font: {size: sizes.axis}},
          border: {color: '#555', width: 1},
          grid: {drawOnChartArea: false, tickLength: 2, tickColor: '#555', tickWidth: .6},
          ticks: {stepSize: 20, includeBounds: false, padding: 1, color: '#333', font: {size: sizes.tick}, callback: minus}
        }
      }
    }
  })
}

// legend only chart, the axes are off and nothing is plotted
function legendBlock(left, top, names, colors, opts) {
  const c = makeCanvas(left, top, 260, 100)
  new Chart(c, {
    type: 'scatter',
    data: {datasets: names.map((n, i) => ({label: n, data: [], backgroundColor: colors[i], borderWidth: 0}))},
    options: {
      layout: {padding: 0},
      scales: {x: {display: false}, y: {display: false}},
      plugins: {
        tooltip: {enabled: false},
        legend: {
          position: 'left', align: 'start', onClick: null,
          title: opts.title ? {display: true, text: opts.title, color: '#222', position: 'start', padding: {top: 0, bottom: 1}, font: {size: opts.titleSize}} : {display: false},
          labels: {
            usePointStyle: !!opts.round, boxWidth: opts.boxW, boxHeight: opts.boxH, padding: opts.gap, color: '#222',
            font: {size: opts.size, lineHeight: 1}
          }
        }
      }
    }
  })
}

const panelGrey = {
  id: 'panelGrey',
  beforeDraw(chart) {
    const a = chart.chartArea, ctx = chart.ctx
    ctx.save()
    ctx.fillStyle = '#EBEBEB'
    ctx.fillRect(a.left, a.top - 1.5, a.right - a.left, a.bottom - a.top + 3)
    ctx.restore()
  }
}

function freqBars(box, yW, samples, tb, hc, hcName, tbName, sizes) {
  const xH = 20
  const c = makeCanvas(box.left - yW, box.top, box.right - box.left + yW + 6, box.bottom - box.top + xH)
  new Chart(c, {
    type: 'bar',
    plugins: [panelGrey],
    data: {
      labels: samples,
      datasets: [
        {label: tbName, data: tb, backgroundColor: '#00BFC4', barPercentage: .9, categoryPercentage: 1},
        {label: hcName, data: hc, backgroundColor: '#F8766D', barPercentage: .9, categoryPercentage: 1}
      ]
    },
    options: {
      indexAxis: 'y',
      layout: {padding: {right: 6}},
      plugins: {legend: {display: false}, tooltip: {enabled: false}},
      scales: {
        x: {
          type: 'linear', stacked: true, min: -0.05, max: 1.05,
          afterFit: fixHeight(xH),
          afterBuildTicks: s => { s.ticks = freqTicks.map(v => ({value: v})) },
          title: {display: true, text: 'frequency', color: '#222', padding: 0, font: {size: sizes.axis}},
          border: {display: false},
          grid: {color: '#fff', lineWidth: .7, tickLength: 2, tickColor: '#555', tickWidth: .5},
          ticks: {autoSkip: false, minRotation: 90, maxRotation: 90, padding: 1, color: '#4D4D4D', font: {size: sizes.tick}, callback: v => Number(v).toFixed(2)}
        },
        y: {
          stacked: true,
          afterFit: fixWidth(yW),
          title: {display: true, text: 'Sample', color: '#222', padding: 0, font: {size: sizes.axis}},
          border: {display: false},
          grid: {color: '#fff', lineWidth: .7, tickLength: 2, tickColor: '#555', tickWidth: .5},
          ticks: {autoSkip: false, padding: 1, color: '#4D4D4D', font: {size: sizes.label}}
        }
      }
    }
  })
}

// navy - white - firebrick ramp
function heatColor(v, lim) {
  const t = Math.max(-1, Math.min(1, v / lim))
  const from = t < 0 ? [0, 0, 128] : [205, 38, 38]
  const k = Math.abs(t)
  const mix = i => Math.round(255 + (from[i] - 255) * k)
  return `rgb(${mix(0)},${mix(1)},${mix(2)})`
}

function heatmap(box, cols, rows, values, sizes) {
  const padL = 34, yW = sizes.rowW, xH = 50
  const c = makeCanvas(box.left - padL, box.top, padL + box.right - box.left + yW, box.bottom - box.top + xH)
  new Chart(c, {
    type: 'bar',
    data: {
      labels: rows,
      datasets: cols.map((name, j) => ({
        label: name,
        data: rows.map(() => 1),
        backgroundColor: values.map(r => heatColor(r[j], 2.5)),
        borderColor: '#b5b5b5', borderWidth: .3,
        barPercentage: 1, categoryPercentage: 1
      }))
    },
    options: {
      indexAxis: 'y',
      layout: {padding: {left: padL}},
      plugins: {legend: {display: false}, tooltip: {enabled: false}},
      scales: {
        x: {
          type: 'linear', stacked: true, min: 0, max: cols.length, position: 'bottom',
          afterFit: fixHeight(xH),
          afterBuildTicks: s => { s.ticks = cols.map((n, j) => ({value: j + .5})) },
          border: {display: false}, grid: {display: false, drawTicks: false},
          ticks: {autoSkip: false, minRotation: 45, maxRotation: 45, padding: 3, color: '#444', font: {size: sizes.col}, callback: (v, i) => cols[i]}
        },
        y: {
          stacked: true, position: 'right',
          afterFit: fixWidth(yW),
          border: {display: false}, grid: {display: false, drawTicks: false},
          ticks: {autoSkip: false, padding: 1, color: '#333', font: {size: sizes.row}}
        }
      }
    }
  })
}

function treePath(tree, vertical) {
  const out = []
  tree.forEach(([a, ha, b, hb, top]) => {
    const seq = [[a, ha], [a, top], [b, top], [b, hb]]
    seq.forEach(([p, h]) => out.push(vertical ? {x: h, y: p} : {x: p, y: h}))
    out.push({x: null, y: null})
  })
  return out
}

function dendro(left, top, width, height, tree, vertical, count) {
  const c = makeCanvas(left, top, width, height)
  new Chart(c, {
    type: 'scatter',
    data: {datasets: [{data: treePath(tree, vertical), showLine: true, spanGaps: false, pointRadius: 0, borderColor: '#8c8c8c', borderWidth: .6}]},
    options: {
      parsing: false,
      layout: {padding: 0},
      plugins: {legend: {display: false}, tooltip: {enabled: false}},
      scales: {
        x: vertical ? {display: false, min: 0, max: 1, reverse: true} : {display: false, min: 0, max: count},
        y: vertical ? {display: false, min: 0, max: count, reverse: true} : {display: false, min: 0, max: 1}
      }
    }
  })
}

function colorBar(left, top, width, height) {
  const yW = 8
  const c = makeCanvas(left, top, width + yW, height)
  new Chart(c, {
    type: 'bar',
    data: {
      labels: ['z'],
      datasets: [{
        data: [[-2.3, 2.3]],
        barPercentage: 1, categoryPercentage: 1,
        backgroundColor: ctx => {
          const a = ctx.chart.chartArea
          if (!a) return '#fff'
          const g = ctx.chart.ctx.createLinearGradient(0, a.bottom, 0, a.top)
          g.addColorStop(0, '#000080'); g.addColorStop(.5, '#ffffff'); g.addColorStop(1, '#CD2626')
          return g
        }
      }]
    },
    options: {
      layout: {padding: 0},
      plugins: {legend: {display: false}, tooltip: {enabled: false}},
      scales: {
        x: {display: false},
        y: {
          position: 'right', min: -2.3, max: 2.3,
          afterFit: fixWidth(yW),
          afterBuildTicks: s => { s.ticks = barTicks.map(v => ({value: v})) },
          border: {display: false}, grid: {display: false, drawTicks: false},
          ticks: {padding: 1.5, color: '#444', font: {size: 3}, callback: minus}
        }
      }
    }
  })
}

const cd8Sizes = {title: 5, tick: 5, axis: 6.5, dot: 1}
const cd4Sizes = {title: 5.8, tick: 6, axis: 7.5, dot: 1}

tsnePanel({left: 22.5, right: 186, top: 15, bottom: 185}, {x: [-41, 39.9], y: [-45.1, 44.4]}, 'HCD8', cd8Sizes, true, [
  {color: cd8Colors[0], core: hcd8Naive, dots: hcd8NaiveDots, r: 4.6},
  {color: cd8Colors[1], core: hcd8Gnly, dots: hcd8GnlyDots, r: 4.6},
  {color: cd8Colors[2], core: hcd8Exh, dots: hcd8ExhDots, r: 3.6},
  {color: cd8Colors[3], dots: hcd8Mem},
  {color: cd8Colors[4], core: hcd8Mem2, dots: hcd8Mem2Dots, r: 3},
  {color: cd8Colors[5], core: hcd8Term, dots: hcd8TermDots, r: 4},
  {color: cd8Colors[6], core: hcd8Mait, dots: hcd8MaitDots, r: 3.4}
])
tsnePanel({left: 189, right: 352, top: 15, bottom: 185}, {x: [-41.4, 39.3], y: [-45.1, 44.4]}, 'TBCD8', cd8Sizes, false, [
  {color: cd8Colors[0], core: tbcd8Naive, dots: tbcd8NaiveDots, r: 3.8, d: 1.5},
  {color: cd8Colors[1], core: tbcd8Gnly, dots: tbcd8GnlyDots, r: 3.4},
  {color: cd8Colors[2], core: tbcd8Exh, dots: tbcd8ExhDots, r: 2.6, d: 1.2},
  {color: cd8Colors[3], core: tbcd8Mem, dots: tbcd8MemDots, r: 3.6},
  {color: cd8Colors[4], core: tbcd8Mem2, dots: tbcd8Mem2Dots, r: 3.2},
  {color: cd8Colors[5], core: tbcd8Term, dots: tbcd8TermDots, r: 2.6, d: 1.3},
  {color: cd8Colors[6], core: tbcd8Mait, dots: tbcd8MaitDots, r: 3.6}
])
tsnePanel({left: 25, right: 187, top: 228, bottom: 394}, {x: [-39.2, 42.6], y: [-39.7, 41.3]}, 'HCD4', cd4Sizes, true, [
  {color: cd4Colors[0], core: hcd4Naive, dots: hcd4NaiveDots, r: 4.8},
  {color: cd4Colors[1], core: hcd4Th1, dots: hcd4Th1Dots, r: 4.2},
  {color: cd4Colors[2], dots: hcd4Exh},
  {color: cd4Colors[3], core: hcd4Gnly, dots: hcd4GnlyDots, r: 3.4},
  {color: cd4Colors[5], core: hcd4Em, dots: hcd4EmDots, r: 4.2},
  {color: cd4Colors[6], core: hcd4Treg, dots: hcd4TregDots, r: 3.4},
  {color: cd4Colors[7], dots: hcd4Th2}
])
tsnePanel({left: 189, right: 351, top: 228, bottom: 394}, {x: [-39.2, 42.6], y: [-39.7, 41.3]}, 'TBCD4', cd4Sizes, false, [
  {color: cd4Colors[0], core: tbcd4Naive, dots: tbcd4NaiveDots, r: 4.2},
  {color: cd4Colors[1], core: tbcd4Th1, dots: tbcd4Th1Dots, r: 3},
  {color: cd4Colors[2], core: tbcd4Exh, dots: tbcd4ExhDots, r: 3.6},
  {color: cd4Colors[3], core: tbcd4Gnly, dots: tbcd4GnlyDots, r: 2.6, d: 1.2},
  {color: cd4Colors[4], core: tbcd4Mem, dots: tbcd4MemDots, r: 4.8},
  {color: cd4Colors[5], core: tbcd4Em, dots: tbcd4EmDots, r: 3},
  {color: cd4Colors[6], core: tbcd4Treg, dots: tbcd4TregDots, r: 3.4},
  {color: cd4Colors[7], core: tbcd4Th2, dots: tbcd4Th2Dots, r: 4.4}
])

legendBlock(359, 76, cd8Groups, cd8Colors, {round: true, boxW: 5.3, boxH: 3, gap: 2, size: 5.3})
legendBlock(358, 284, cd4Groups, cd4Colors, {round: true, boxW: 6.5, boxH: 3, gap: .65, size: 6.5})

freqBars({left: 508, right: 665, top: 21.8, bottom: 154}, 64, cd8Samples, cd8TbFreq, cd8HcFreq, 'HCD8', 'TBCD8', {tick: 3.6, label: 3.9, axis: 5})
freqBars({left: 521, right: 667, top: 245.9, bottom: 367.8}, 60, cd4Samples, cd4TbFreq, cd4HcFreq, 'HCD4', 'TBCD4', {tick: 3.2, label: 3.6, axis: 4.6})
legendBlock(672, 74, ['HCD8','TBCD8'], ['#F8766D','#00BFC4'], {title: 'group', titleSize: 5.5, boxW: 8, boxH: 9, gap: .5, size: 4})
legendBlock(674, 293, ['HCD4','TBCD4'], ['#F8766D','#00BFC4'], {title: 'group', titleSize: 5, boxW: 7, boxH: 9, gap: .5, size: 3.8})

heatmap({left: 44, right: 257, top: 437, bottom: 647}, colsE, rowsE, heatE, {row: 2.7, col: 2.8, rowW: 76})
heatmap({left: 383, right: 524, top: 437, bottom: 647}, colsF, rowsF, heatF, {row: 4.4, col: 3.3, rowW: 110})

dendro(44, 420, 213, 17, colTreeE, false, 14)
dendro(383, 420, 141, 17, colTreeF, false, 16)
dendro(33, 437, 11, 210, rowTreeE, true, 50)
dendro(363, 437, 20, 210, rowTreeF, true, 50)

colorBar(330, 437, 3.5, 46)
colorBar(632, 437, 4, 46)
</script>
</body>
</html>
